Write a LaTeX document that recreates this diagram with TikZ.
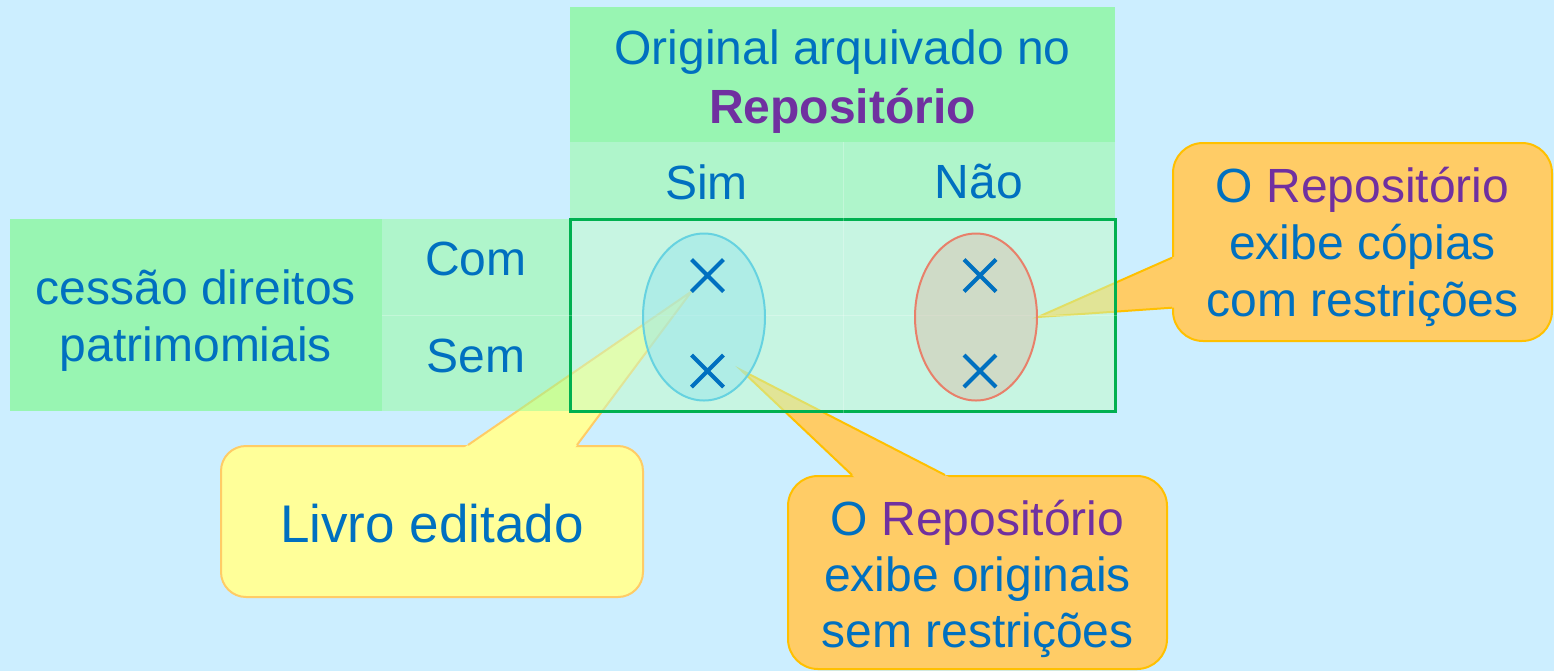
\documentclass[tikz,border=0pt]{standalone}
\usepackage{fontspec}
\setmainfont{Liberation Sans}
\usetikzlibrary{shapes.geometric,shapes.misc,calc}
\definecolor{bgblue}{RGB}{204,238,255}
\definecolor{txtblue}{RGB}{0,112,192}
\definecolor{repopurple}{RGB}{112,48,160}
\definecolor{hdrgreen}{RGB}{102,252,102}
\definecolor{rowgreen}{RGB}{148,252,153}
\definecolor{bodygreen}{RGB}{196,252,199}
\definecolor{framegreen}{RGB}{0,176,80}
\definecolor{simcyan}{RGB}{152,231,234}
\definecolor{simedge}{RGB}{102,210,224}
\definecolor{naotan}{RGB}{216,195,174}
\definecolor{naoedge}{RGB}{232,128,106}
\definecolor{notey}{RGB}{255,255,153}
\definecolor{noteyedge}{RGB}{255,204,102}
\definecolor{noteo}{RGB}{255,204,102}
\definecolor{noteoedge}{RGB}{255,192,0}
\pgfdeclarelayer{bg}
\pgfdeclarelayer{notes}
\pgfsetlayers{bg,notes,main}
\tikzset{
  cell/.style={rectangle, inner sep=0pt, fill opacity=0.5},
  txt/.style={inner sep=0pt, text=txtblue, align=center, font=\fontsize{24}{28.5}\selectfont},
  oval/.style={ellipse, inner sep=0pt, line width=1pt, fill opacity=0.5,
    minimum width=61pt, minimum height=83.5pt},
  xmark/.style={cross out, draw=txtblue, line width=2pt, inner sep=0pt,
    minimum size=14pt},
  gridline/.style={white, opacity=0.25, line width=0.6pt},
  yelnote/.style={rectangle, rounded corners=12.5pt, fill=notey, draw=noteyedge, line width=1pt},
  ornote/.style={rectangle, rounded corners=15pt, fill=noteo, draw=noteoedge, line width=1pt},
}
\newcommand{\repo}{{\color{repopurple}Repositório}}
\begin{document}
\begin{tikzpicture}[x=0.5pt,y=-0.5pt]
  \useasboundingbox (0,0) rectangle (1554,671);
  \begin{pgfonlayer}{bg}
    \fill[bgblue] (0,0) rectangle (1554,671);
  \end{pgfonlayer}

  % table
  \node[cell, fill=hdrgreen, minimum width=272.5pt, minimum height=67.5pt] (hdr) at (842.5,74.5) {};
  \node[cell, fill=rowgreen, minimum width=136.5pt, minimum height=38pt] (sim) at (706.5,180) {};
  \node[cell, fill=rowgreen, minimum width=136pt, minimum height=38pt] (nao) at (979,180) {};
  \node[cell, fill=hdrgreen, minimum width=186pt, minimum height=96pt] (cessao) at (196,315) {};
  \node[cell, fill=rowgreen, minimum width=94pt, minimum height=48pt] (com) at (476,267) {};
  \node[cell, fill=rowgreen, minimum width=94pt, minimum height=48pt] (sem) at (476,363) {};
  \node[cell, fill=bodygreen, draw=framegreen, line width=1.5pt,
    minimum width=272.5pt, minimum height=96pt] (body) at (842.5,315) {};
  \draw[gridline] (sim.north east) -- (sim.east |- body.south);
  \draw[gridline] (com.south west) -- (com.south -| body.east);

  \node[txt, font=\fontsize{24}{29.5}\selectfont] (hdrtxt) at (842.5,81.5)
    {Original arquivado no\\ {\bfseries\color{repopurple}Repositório}};
  \node[txt] (simtxt) at (706.5,182) {Sim};
  \node[txt] (naotxt) at (979,182) {Não};
  \node[txt] (cessaotxt) at (196,321) {cessão direitos\\ patrimomiais};
  \node[txt] (comtxt) at (476,259) {Com};
  \node[txt] (semtxt) at (476,356) {Sem};

  \node[oval, fill=simcyan, draw=simedge] (ovsim) at (704,317) {};
  \node[oval, fill=naotan, draw=naoedge] (ovnao) at (976,317) {};
  \foreach \c/\x in {s/707.5, n/980} {
    \node[xmark] (xc\c) at (\x,275.5) {};
    \node[xmark] (xs\c) at (\x,371) {};
  }
  \coordinate (tipsem) at (741,370);

  % callouts
  \begin{pgfonlayer}{notes}
    \node[yelnote, minimum width=211pt, minimum height=75.5pt] (livro) at (432,521.5) {};
    \node[txt, font=\fontsize{26.5}{30}\selectfont] (livrotxt) at (432,524) {Livro editado};
    \coordinate (la) at ([xshift=18pt]livro.north);
    \coordinate (lb) at ([xshift=72.5pt]livro.north);
    \fill[notey] ($(xcs.south west)!1.03!(la)$) -- (xcs.south west) -- ($(xcs.south west)!1.03!(lb)$) -- cycle;
    \draw[noteyedge, line width=1pt] (la) -- (xcs.south west) -- (lb);

    \node[ornote, minimum width=189.5pt, minimum height=96.5pt] (semres) at (977.5,572.5) {};
    \node[txt, font=\fontsize{24}{28}\selectfont] (semrestxt) at (977.5,579)
      {O \repo\\ exibe originais\\ sem restrições};
    \coordinate (sa) at ([xshift=-62.75pt]semres.north);
    \coordinate (sb) at ([xshift=-16.25pt]semres.north);
    \fill[noteo] ($(tipsem)!1.04!(sa)$) -- (tipsem) -- ($(tipsem)!1.04!(sb)$) -- cycle;
    \draw[noteoedge, line width=1pt] (sa) -- (tipsem) -- (sb);

    \node[ornote, minimum width=189.5pt, minimum height=99pt] (comres) at (1362.5,242) {};
    \node[txt] (comrestxt) at (1362.5,247) {O \repo\\ exibe cópias\\ com restrições};
    \coordinate (ca) at ([yshift=-7.85pt]comres.west);
    \coordinate (cb) at ([yshift=-32.85pt]comres.west);
    \fill[noteo] ($(ovnao.east)!1.03!(ca)$) -- (ovnao.east) -- ($(ovnao.east)!1.03!(cb)$) -- cycle;
    \draw[noteoedge, line width=1pt] (ca) -- (ovnao.east) -- (cb);
  \end{pgfonlayer}
\end{tikzpicture}
\end{document}
